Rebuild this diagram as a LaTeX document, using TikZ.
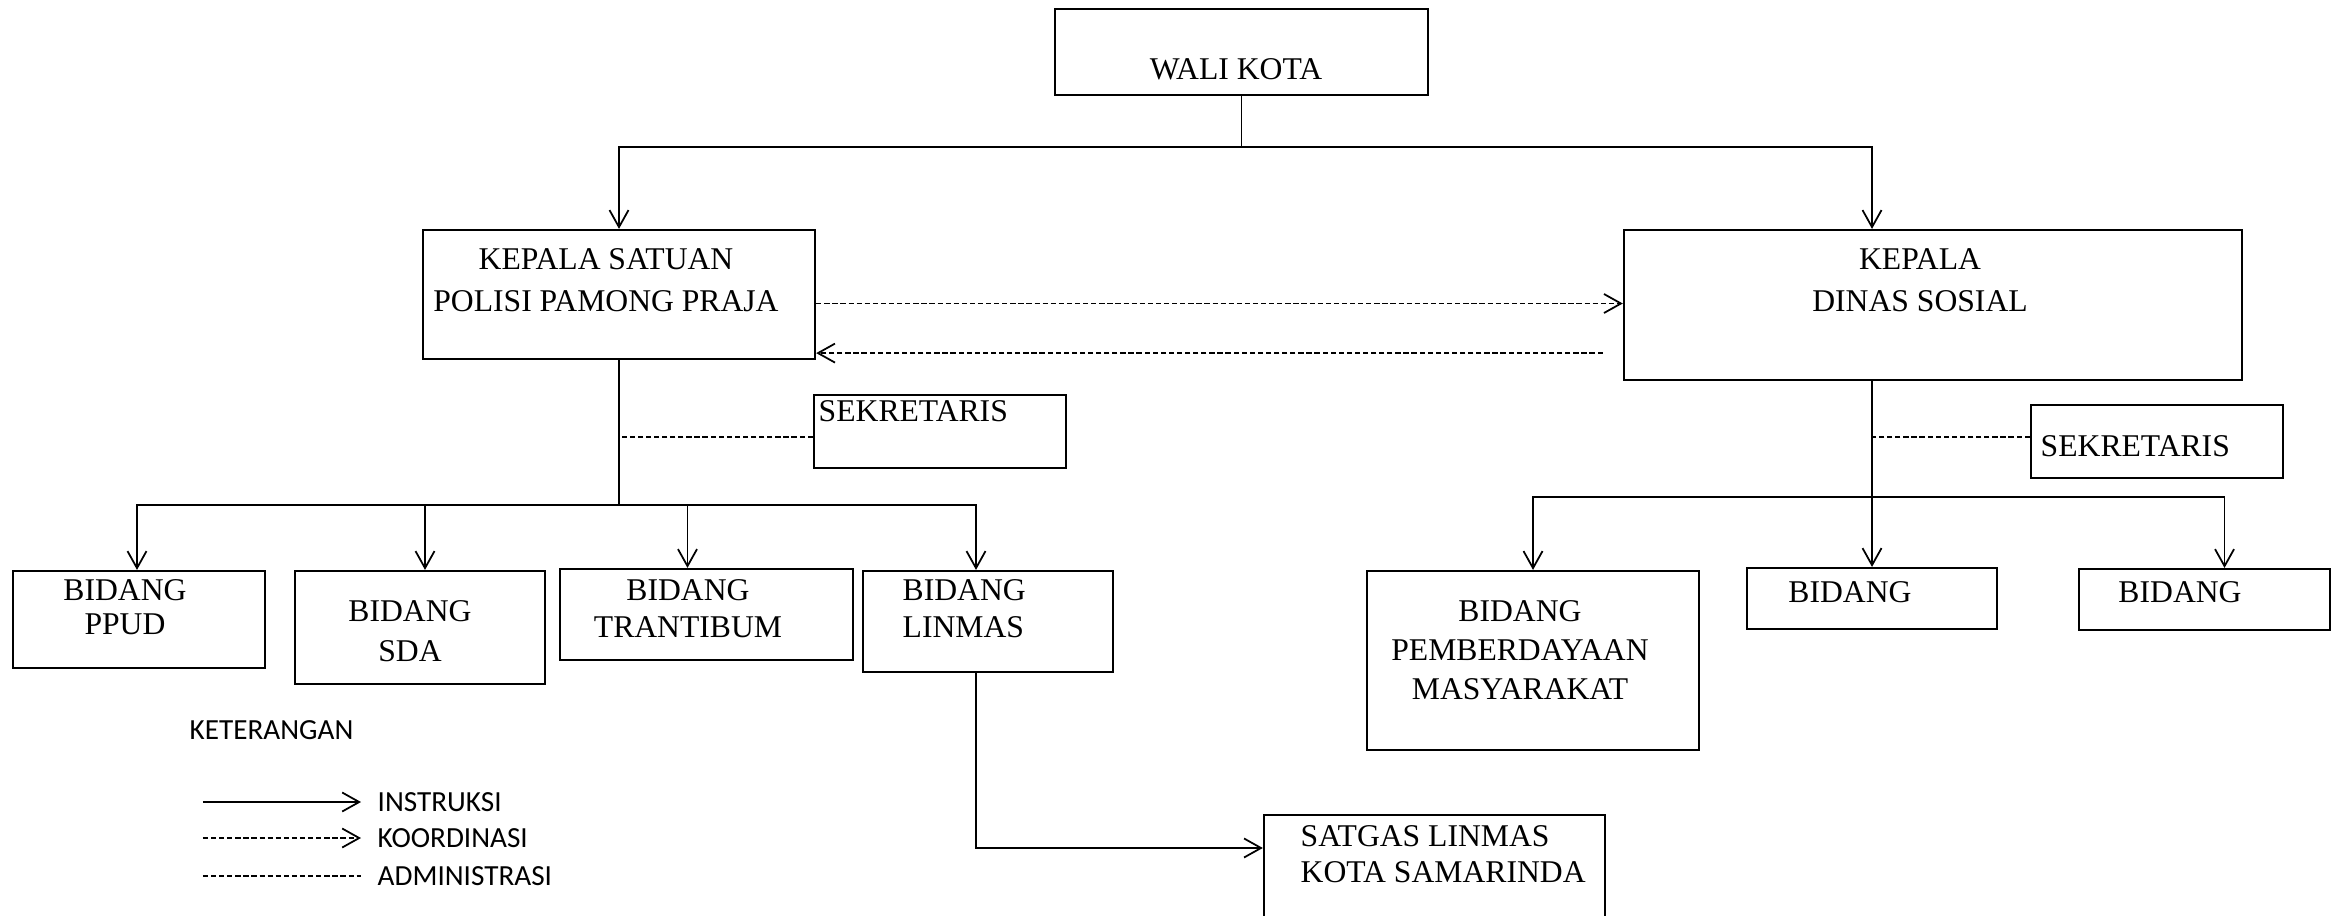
\documentclass[tikz,border=0pt]{standalone}
\usepackage{fontspec}
\setmainfont{Liberation Serif}
\newfontfamily\legendfont{Carlito}
\usetikzlibrary{arrows.meta,calc}

\tikzset{
  box/.style={draw, line width=0.6pt, inner sep=0pt},
  boxtext/.style={font=\fontsize{9}{#1}\selectfont, align=center, inner sep=0pt},
  boxtext/.default=11pt,
  legendtext/.style={font=\legendfont\fontsize{8.3}{10}\selectfont, anchor=west, inner sep=0pt},
  instr/.style={line width=0.5pt, -{Straight Barb[length=1.7mm,width=1.9mm]}},
  koord/.style={line width=0.5pt, dash pattern=on 1.5pt off 0.8pt, -{Straight Barb[length=1.7mm,width=1.9mm]}},
  admin/.style={line width=0.5pt, dash pattern=on 1.5pt off 0.8pt}
}

\begin{document}
\begin{tikzpicture}[x=0.01cm, y=-0.01cm]
  % Page frame
  \clip (0,0) rectangle (2337,915);

  % Draw the top box
  \node[box, minimum width=3.73cm, minimum height=0.86cm] (wali) at (1241.5,52) {};
  \node[boxtext] (wali-t) at (1236,69) {WALI KOTA};

  % Draw the two heads
  \node[box, minimum width=3.92cm, minimum height=1.29cm] (satpol) at (619,294.5) {};
  \node[boxtext=12pt] (satpol-t) at (606,280) {KEPALA SATUAN\\POLISI PAMONG PRAJA};
  \node[box, minimum width=6.18cm, minimum height=1.50cm] (dinsos) at (1933,305) {};
  \node[boxtext=12pt] (dinsos-t) at (1920,280) {KEPALA\\DINAS SOSIAL};

  % Draw the secretaries
  \node[box, minimum width=2.52cm, minimum height=0.73cm] (sekr1) at (940,431.5) {};
  \node[boxtext, anchor=west] (sekr1-t) at (818,411) {SEKRETARIS};
  \node[box, minimum width=2.52cm, minimum height=0.73cm] (sekr2) at (2157,441.5) {};
  \node[boxtext, anchor=west] (sekr2-t) at (2040,446) {SEKRETARIS};

  % Draw the fields of Satpol PP
  \node[box, minimum width=2.52cm, minimum height=0.97cm] (ppud) at (139,619.5) {};
  \node[boxtext=9.6pt] (ppud-t) at (125,607) {BIDANG\\PPUD};
  \node[box, minimum width=2.50cm, minimum height=1.13cm] (sda) at (420,627.5) {};
  \node[boxtext=11.3pt] (sda-t) at (410,631) {BIDANG\\SDA};
  \node[box, minimum width=2.93cm, minimum height=0.91cm] (trantibum) at (706.5,614.5) {};
  \node[boxtext=10.5pt] (trantibum-t) at (688,608.5) {BIDANG\\TRANTIBUM};
  \node[box, minimum width=2.50cm, minimum height=1.01cm] (linmas) at (988,621.5) {};
  \node[boxtext=10.5pt, align=left, anchor=west] (linmas-t) at (902,608.5) {BIDANG\\LINMAS};

  % Draw the fields of Dinas Sosial
  \node[box, minimum width=3.32cm, minimum height=1.79cm] (pemb) at (1533,660.5) {};
  \node[boxtext] (pemb-t) at (1520,650) {BIDANG\\PEMBERDAYAAN\\MASYARAKAT};
  \node[box, minimum width=2.50cm, minimum height=0.61cm] (bid2) at (1872,598.5) {};
  \node[boxtext] (bid2-t) at (1850,592) {BIDANG};
  \node[box, minimum width=2.51cm, minimum height=0.61cm] (bid3) at (2204.5,599.5) {};
  \node[boxtext] (bid3-t) at (2180,592) {BIDANG};

  % Draw the task force box (runs off the page)
  \node[box, minimum width=3.41cm, minimum height=1.20cm] (satgas) at (1434.5,875) {};
  \node[boxtext=10.2pt, align=left, anchor=west] (satgas-t) at (1300,854) {SATGAS LINMAS\\KOTA SAMARINDA};

  % Instruction lines from the mayor
  \draw[line width=0.5pt] (wali.south) -- ++(0,51) coordinate (split);
  \draw[instr] (split) -| (satpol.north);
  \draw[instr] (split) -| (dinsos.north -| bid2.north);

  % Coordination between the heads
  \draw[koord] ([yshift=-0.09cm]satpol.east) -- ([yshift=-0.09cm]satpol.east -| dinsos.west);
  \draw[koord] ($(dinsos.west |- satpol.south)+(-20,-7)$) -- ($(satpol.south east)+(0,-7)$);

  % Satpol PP down to its fields
  \draw[line width=0.5pt] (satpol.south) -- ++(0,145) coordinate (jl);
  \draw[admin] ([yshift=-0.055cm]sekr1.west) -- ([yshift=-0.055cm]sekr1.west -| satpol.south);
  \draw[instr] (jl) -| ([xshift=-0.02cm]ppud.north);
  \draw[instr] (jl) -| ([xshift=0.05cm]sda.north);
  \draw[instr] (jl) -| ([xshift=-0.19cm]trantibum.north);
  \draw[instr] (jl) -| ([xshift=-0.12cm]linmas.north);
  \draw[instr] ([xshift=-0.12cm]linmas.south) |- ([yshift=0.27cm]satgas.west);

  % Dinas Sosial down to its fields
  \draw[instr] (dinsos.south -| bid2.north) -- (bid2.north);
  \coordinate (jr) at ($(dinsos.south -| bid2.north)+(0,116)$);
  \draw[admin] ([yshift=0.045cm]sekr2.west) -- ([yshift=0.045cm]sekr2.west -| bid2.north);
  \draw[instr] (jr) -| (pemb.north);
  \draw[instr] (jr) -| ([xshift=0.2cm]bid3.north);

  % Legend
  \node[legendtext] (ket) at (189,730) {KETERANGAN};
  \node[legendtext, inner xsep=0.16cm] (ins) at (361,802) {INSTRUKSI};
  \node[legendtext, inner xsep=0.16cm] (koo) at (361,838) {KOORDINASI};
  \node[legendtext, inner xsep=0.16cm] (adm) at (361,876) {ADMINISTRASI};
  \draw[instr] ([xshift=-1.58cm]ins.west) -- (ins.west);
  \draw[koord] ([xshift=-1.58cm]koo.west) -- (koo.west);
  \draw[admin] ([xshift=-1.58cm]adm.west) -- (adm.west);
\end{tikzpicture}
\end{document}
